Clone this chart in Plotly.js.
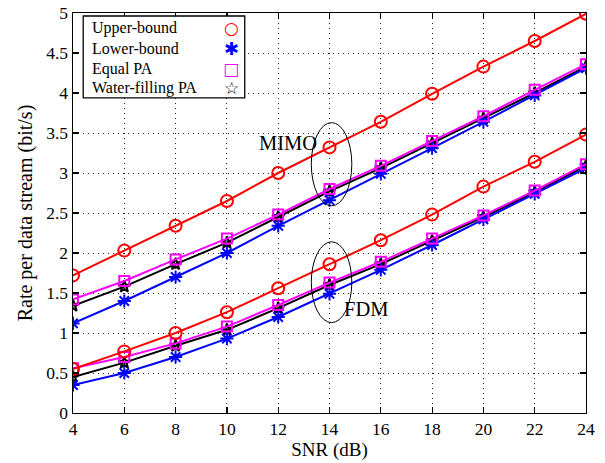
<!DOCTYPE html>
<html><head><meta charset="utf-8">
<script src="https://cdn.plot.ly/plotly-3.0.1.min.js"></script>
<style>body{margin:0;background:#fff}#c{width:605px;height:463px}</style>
</head><body><div id="c"></div>
<script>
const snr = [4,6,8,10,12,14,16,18,20,22,24];
const mimoUpper = [1.72,2.03,2.34,2.65,3.00,3.32,3.64,3.99,4.33,4.65,4.99];
const mimoLower = [1.12,1.40,1.70,2.00,2.34,2.66,2.99,3.31,3.64,3.97,4.31];
const mimoEqual = [1.42,1.65,1.92,2.18,2.48,2.80,3.09,3.40,3.71,4.04,4.36];
const mimoWater = [1.34,1.58,1.86,2.13,2.45,2.77,3.06,3.37,3.68,4.00,4.33];
const fdmUpper = [0.55,0.77,1.00,1.26,1.56,1.86,2.16,2.48,2.83,3.14,3.48];
const fdmLower = [0.35,0.50,0.70,0.93,1.20,1.49,1.79,2.10,2.42,2.74,3.06];
const fdmEqual = [0.56,0.70,0.87,1.08,1.35,1.63,1.89,2.18,2.47,2.78,3.11];
const fdmWater = [0.45,0.63,0.84,1.04,1.31,1.60,1.86,2.15,2.45,2.76,3.09];
const seriesNames = ['Upper-bound','Lower-bound','Equal PA','Water-filling PA'];
const yTicks = [0,0.5,1,1.5,2,2.5,3,3.5,4,4.5,5];
const yTickText = ['0','0.5','1','1.5','2','2.5','3','3.5','4','4.5','5'];

const serif = 'Liberation Serif, Times New Roman, serif';
const styles = [
  {color:'#ff0000', symbol:'circle-open', size:12, glyph:'○'},
  {color:'#0000ff', symbol:'asterisk-open', size:11, glyph:'✱'},
  {color:'#ff00ff', symbol:'square-open', size:10, glyph:'□'},
  {color:'#000000', symbol:'star-open', size:9, glyph:'☆'}
];
const groups = [[fdmWater,3],[fdmLower,1],[fdmEqual,2],[fdmUpper,0],[mimoWater,3],[mimoLower,1],[mimoEqual,2],[mimoUpper,0]];
const traces = groups.map(([ys,k]) => ({
  x: snr, y: ys, type:'scatter', mode:'lines+markers', showlegend:false,
  line:{color:styles[k].color, width:2},
  marker:{symbol:styles[k].symbol, size:styles[k].size, color:styles[k].color,
          line:{color:styles[k].color, width:2}}
}));

const annotations = [
  {x:12.38, y:3.37, xref:'x', yref:'y', text:'MIMO', showarrow:false, font:{family:serif,size:20.5,color:'#000'}},
  {x:15.44, y:1.30, xref:'x', yref:'y', text:'FDM', showarrow:false, font:{family:serif,size:20.5,color:'#000'}}
];
const rowY = [0.962, 0.912, 0.860, 0.812];
seriesNames.forEach((n,i) => {
  annotations.push({x:0.0327, y:rowY[i], xref:'paper', yref:'paper', xanchor:'left', yanchor:'middle',
    text:n, showarrow:false, font:{family:serif,size:16,color:'#000'}});
  annotations.push({x:0.308, y:rowY[i], xref:'paper', yref:'paper', xanchor:'center', yanchor:'middle',
    text:styles[i].glyph, showarrow:false, font:{family:'DejaVu Sans',size:i===1?18:17,color:styles[i].color}});
});

const shapes = [
  {type:'circle', xref:'x', yref:'y', x0:13.29, x1:14.87, y0:2.59, y1:3.63, line:{color:'#000',width:1}},
  {type:'circle', xref:'x', yref:'y', x0:13.29, x1:14.87, y0:1.13, y1:2.14, line:{color:'#000',width:1}},
  {type:'rect', xref:'paper', yref:'paper', x0:0.0199, x1:0.3348, y0:0.788, y1:0.9925, line:{color:'#000',width:1.3}, fillcolor:'#fff', layer:'above'}
];

const axisCommon = {
  ticks:'inside', ticklen:6, tickcolor:'#000', tickwidth:1.2,
  showline:true, linecolor:'#000', linewidth:1.4, mirror:'ticks', zeroline:false,
  showgrid:true, gridcolor:'#222', griddash:'1px,4px', gridwidth:1,
  tickfont:{family:serif,size:17.5,color:'#000'}
};
const layout = {
  width:605, height:463,
  margin:{l:72.5, r:19.3, t:13, b:50},
  paper_bgcolor:'#fff', plot_bgcolor:'#fff',
  font:{family:serif, size:16, color:'#000'},
  xaxis:Object.assign({}, axisCommon, {range:[4,24], tickvals:snr,
    title:{text:'SNR (dB)', font:{family:serif,size:19}, standoff:2}}),
  yaxis:Object.assign({}, axisCommon, {range:[0,5], tickvals:yTicks, ticktext:yTickText,
    title:{text:'Rate per data stream (bit/s)', font:{family:serif,size:20}, standoff:8}}),
  annotations, shapes
};
Plotly.newPlot('c', traces, layout, {staticPlot:true, displayModeBar:false});
</script></body></html>
